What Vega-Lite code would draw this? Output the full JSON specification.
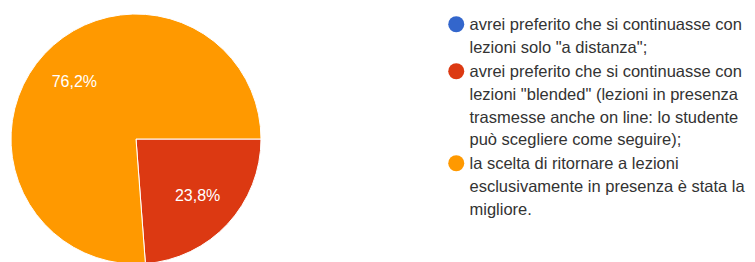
{
  "$schema": "https://vega.github.io/schema/vega-lite/v6.json",
  "width": 272,
  "height": 246,
  "autosize": {"type": "none"},
  "padding": {"left": 0, "top": 16, "right": 483, "bottom": 0},
  "background": "white",
  "data": {
    "values": [
      {"risposta": "avrei preferito che si continuasse con\nlezioni solo \"a distanza\";", "pct": 0, "n": 1, "etichetta": ""},
      {"risposta": "avrei preferito che si continuasse con\nlezioni \"blended\" (lezioni in presenza\ntrasmesse anche on line: lo studente\npuò scegliere come seguire);", "pct": 23.8, "n": 2, "etichetta": "23,8%"},
      {"risposta": "la scelta di ritornare a lezioni\nesclusivamente in presenza è stata la\nmigliore.", "pct": 76.2, "n": 3, "etichetta": "76,2%"}
    ]
  },
  "encoding": {
    "theta": {
      "field": "pct",
      "type": "quantitative",
      "stack": true,
      "scale": {"domain": [0, 100], "range": [1.5707963, 7.8539816]}
    },
    "order": {"field": "n", "type": "quantitative"},
    "color": {
      "field": "risposta",
      "type": "nominal",
      "sort": null,
      "scale": {"range": ["#3366cc", "#dc3912", "#ff9900"]},
      "legend": {
        "orient": "none",
        "legendX": 448,
        "legendY": 0,
        "title": null,
        "padding": 0,
        "symbolType": "circle",
        "symbolSize": 256,
        "symbolStrokeWidth": 0,
        "symbolOpacity": 1,
        "labelFont": "Liberation Sans",
        "labelFontSize": 16.5,
        "labelColor": "#333333",
        "labelOffset": 5,
        "labelLimit": 400,
        "labelBaseline": "top",
        "labelExpr": "split(datum.label, '\\n')",
        "rowPadding": 6
      }
    }
  },
  "layer": [
    {
      "mark": {"type": "arc", "outerRadius": 125, "stroke": "white", "strokeWidth": 1}
    },
    {
      "mark": {"type": "text", "radius": 84, "fill": "white", "font": "Liberation Sans", "fontSize": 16},
      "encoding": {"text": {"field": "etichetta"}}
    }
  ],
  "config": {
    "view": {"stroke": null},
    "style": {"guide-label": {"lineHeight": 22.7, "dy": -7}}
  }
}
